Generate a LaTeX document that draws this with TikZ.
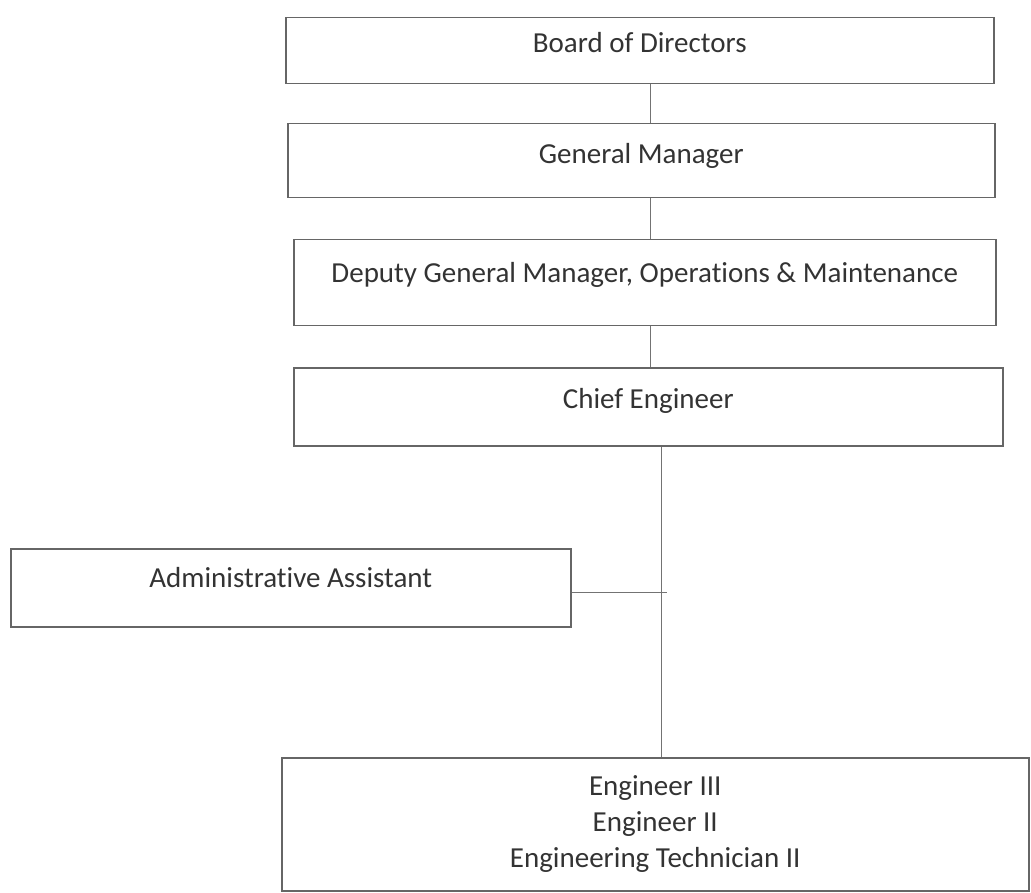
\documentclass[tikz,border=0pt]{standalone}
\usepackage{fontspec}
\setmainfont[Ligatures={NoCommon,NoContextual},Contextuals=NoAlternate]{Carlito}
\usepackage{tikz}

\begin{document}
\begin{tikzpicture}[x=1pt,y=1pt,
    box/.style={draw=black!60,line width=1.5pt,inner sep=0pt,anchor=north west,
      align=center,text=black!80,font=\fontsize{29}{36}\selectfont},
    link/.style={draw=black!55,line width=1pt}]
      \useasboundingbox (0,0) rectangle (1031,-893);
      \node[box,minimum width=708,text height=35,text depth=31] (board) at (285,-17) {Board of Directors};
      \node[box,minimum width=707,text height=40,text depth=34] (gm) at (287,-123) {General Manager};
      \node[box,minimum width=702,text height=43,text depth=43] (dgm) at (293,-239) {Deputy General Manager, Operations \& Maintenance};
      \node[box,minimum width=709,text height=41,text depth=37] (chief) at (293,-367) {Chief Engineer};
      \node[box,minimum width=560,text height=39,text depth=39] (admin) at (10,-548) {Administrative Assistant};
      \node[box,minimum width=747,minimum height=133] (eng) at (281,-757) {Engineer III\\Engineer II\\Engineering Technician II};
      % spine of the chart
      \coordinate (spine) at (650,0);
      \coordinate (spinelow) at (661,0);
      \coordinate (join) at (667,-592);
      \draw[link] (board.south -| spine)--(gm.north -| spine);
      \draw[link] (gm.south -| spine)--(dgm.north -| spine);
      \draw[link] (dgm.south -| spine)--(chief.north -| spine);
      \draw[link] (chief.south -| spinelow)--(eng.north -| spinelow);
      \draw[link] (admin.east |- join)--(join);
    \end{tikzpicture}
\end{document}
